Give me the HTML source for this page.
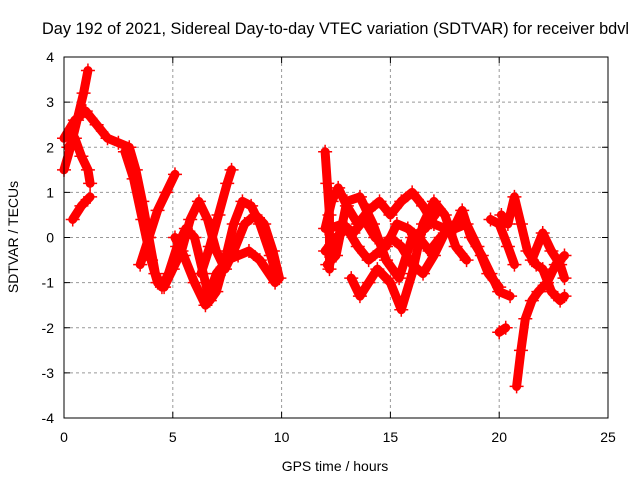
<!DOCTYPE html>
<html><head><meta charset="utf-8"><style>
body{margin:0;background:#fff}
svg{display:block;font-family:"Liberation Sans",sans-serif;font-size:14px}
</style></head><body>
<svg width="640" height="480">
<text x="42" y="34" font-size="16.3">Day 192 of 2021, Sidereal Day-to-day VTEC variation (SDTVAR) for receiver bdvl</text>
<g id="grid"></g>
<g id="ticks"></g>
<g id="marks"></g>
<rect x="64" y="57" width="544" height="361" fill="none" stroke="#000"/>
<text x="335" y="471" text-anchor="middle">GPS time / hours</text>
<text transform="translate(18,237) rotate(-90)" text-anchor="middle">SDTVAR / TECUs</text>
</svg>
<script>
const xTicks=[0,5,10,15,20,25];
const yTicks=[-4,-3,-2,-1,0,1,2,3,4];
const trackA=[[0,1.5],[0.3,2.0],[0.6,2.6],[0.9,3.2],[1.1,3.7]];
const trackB=[[0,2.2],[0.5,2.6],[1.0,2.8],[1.5,2.5],[2.0,2.2],[2.5,2.1],[3.0,2.0],[3.3,1.5],[3.6,0.8],[3.9,0],[4.2,-0.8],[4.5,-1.1],[4.8,-0.8],[5.2,-0.2],[5.6,0.2],[6.0,0],[6.4,-0.8],[6.7,-1.4],[7.0,-1.2],[7.4,-0.5],[7.8,0.3],[8.2,0.8],[8.6,0.7],[9.0,0.3],[9.5,-0.4],[9.8,-0.9]];
const trackC=[[0.2,2.0],[0.5,2.2],[0.8,1.8],[1.1,1.5],[1.2,1.2]];
const trackD=[[2.8,1.9],[3.2,1.3],[3.6,0.4],[4.0,-0.5],[4.3,-1.0],[4.6,-1.1],[5.0,-0.7],[5.4,-0.3],[5.8,0.4],[6.2,0.8],[6.6,0.4],[7.0,-0.3],[7.4,-0.7],[7.8,-0.3],[8.3,0.3],[8.8,0.5],[9.2,0.3],[9.6,-0.3],[9.9,-0.9]];
const trackE=[[3.5,-0.6],[3.9,0],[4.3,0.6],[4.7,1.0],[5.1,1.4]];
const trackF=[[5.1,0],[5.5,-0.4],[6.0,-1.0],[6.5,-1.5],[7.0,-0.8],[7.5,-0.5],[8.0,-0.4],[8.5,-0.3],[9.0,-0.5],[9.7,-1.0]];
const trackF2=[[6.3,-0.8],[6.7,-0.2],[7.1,0.5],[7.5,1.2],[7.7,1.5]];
const trackLow=[[0.4,0.4],[0.8,0.7],[1.2,0.9]];
const trackG=[[12.0,0.2],[12.3,0.8],[12.6,1.1],[13.0,0.7],[13.5,0.3],[14.0,0.6],[14.5,0.8],[15.0,0.5],[15.5,0.8],[16.0,1.0],[16.5,0.7],[17.0,0.3],[17.5,0.2],[18,0.3],[18.3,0.6],[18.7,0.0],[19.2,-0.4],[19.6,-0.8],[20,-1.2],[20.5,-1.3]];
const trackH=[[12.0,-0.3],[12.5,0],[13.0,0.2],[13.5,-0.2],[14,-0.5],[14.5,-0.3],[15,0],[15.5,-0.2],[16,-0.6],[16.5,-0.8],[17,-0.4],[17.5,0.1],[18,0.2],[18.5,0.3],[19,-0.2],[19.5,-0.8],[20,-1.1]];
const trackI=[[13.2,-0.9],[13.6,-1.3],[14,-1.0],[14.4,-0.7],[15,-1.0],[15.5,-1.6],[16,-0.8],[16.5,0.3],[17,0.8],[17.5,0.5],[18,-0.2],[18.5,-0.5]];
const trackP=[[12.2,0.2],[12.8,0.3],[13.3,0.1],[13.8,0.4],[14.3,0.0],[14.8,-0.2],[15.3,0.3],[15.8,0.2],[16.3,0.0],[16.8,-0.3],[17.3,0]];
const trackQ=[[12.1,-0.6],[12.5,-0.4],[13.0,0.8],[13.6,0.9],[14.2,0.3],[14.8,-0.5],[15.4,-0.9],[16.0,0.0],[16.6,0.2],[17.2,0.6]];
const trackR=[[19.6,0.4],[20.0,0.3],[20.4,-0.2],[20.7,-0.6]];
const trackJ=[[20.1,0.5],[20.4,0.3],[20.7,0.9],[21,0.3],[21.3,-0.3],[21.7,-0.6],[22,-0.7],[22.4,-1.2],[22.8,-1.4],[23,-1.3]];
const trackK=[[20.8,-3.3],[21,-2.5],[21.2,-1.8],[21.5,-1.4],[21.8,-1.2],[22.2,-1.0],[22.6,-0.6],[23,-0.4]];
const trackL=[[20.0,-2.1],[20.3,-2.0]];
const trackM=[[21.5,-0.5],[22,0.1],[22.4,-0.3],[22.8,-0.6],[23,-0.9]];
const trackN=[[12.0,1.9],[12.1,1.2],[12.2,0.5],[12.2,-0.7]];
const tracks=[trackA,trackB,trackC,trackD,trackE,trackF,trackF2,trackLow,trackG,trackH,trackI,trackP,trackQ,trackR,trackJ,trackK,trackL,trackM,trackN];
const X=t=>64+t*544/25, Y=v=>237.5-v*361/8;
const NS="http://www.w3.org/2000/svg";
const grid=document.getElementById('grid'),ticks=document.getElementById('ticks'),marks=document.getElementById('marks');
function mk(tag,a,p){const e=document.createElementNS(NS,tag);for(const k in a)e.setAttribute(k,a[k]);p.appendChild(e);return e;}
xTicks.forEach(t=>{const x=X(t);
 if(t>0&&t<25){const l=mk('line',{x1:x,y1:57,x2:x,y2:418,stroke:'#999','stroke-dasharray':'3,3'},grid);}
 mk('line',{x1:x,y1:418,x2:x,y2:412,stroke:'#000'},ticks);mk('line',{x1:x,y1:57,x2:x,y2:63,stroke:'#000'},ticks);
 const tx=mk('text',{x:x,y:442,'text-anchor':'middle'},ticks);tx.textContent=t;
 });
yTicks.forEach(v=>{const y=Y(v);
 if(v>-4&&v<4){const l=mk('line',{x1:64,y1:y,x2:608,y2:y,stroke:'#999','stroke-dasharray':'3,3'},grid);}
 mk('line',{x1:64,y1:y,x2:70,y2:y,stroke:'#000'},ticks);mk('line',{x1:608,y1:y,x2:602,y2:y,stroke:'#000'},ticks);
 const tx=mk('text',{x:54,y:y+5,'text-anchor':'end'},ticks);tx.textContent=v;
 });
tracks.forEach(tr=>{
 const pl=mk('polyline',{points:tr.map(p=>X(p[0])+','+Y(p[1])).join(' '),fill:'none',stroke:'#f00','stroke-width':9,'stroke-linejoin':'round','stroke-linecap':'round'},marks);
 
 
 tr.forEach(p=>{const x=X(p[0]),y=Y(p[1]);
  const m=mk('path',{d:`M${x-7},${y}H${x+7}M${x},${y-7}V${y+7}`,stroke:'#f00','stroke-width':1.5},marks);
  
  });
});
</script>
</body></html>
